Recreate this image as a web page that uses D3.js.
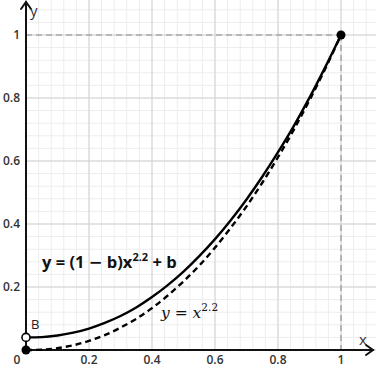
<!DOCTYPE html>
<html>
<head>
<meta charset="utf-8">
<script src="https://cdn.jsdelivr.net/npm/d3@7"></script>
<style>
  html, body { margin: 0; padding: 0; background: #fff; }
  svg { display: block; }
</style>
</head>
<body>
<div id="chart"></div>
<script>
// values
const xSamples = [0, 0.05, 0.1, 0.15, 0.2, 0.25, 0.3, 0.35, 0.4, 0.45, 0.5, 0.55, 0.6, 0.65, 0.7, 0.75, 0.8, 0.85, 0.9, 0.95, 1];
const gammaCurve = [0, 0.001, 0.006, 0.015, 0.029, 0.047, 0.071, 0.099, 0.133, 0.173, 0.218, 0.268, 0.325, 0.388, 0.456, 0.531, 0.612, 0.699, 0.793, 0.893, 1];
const liftedCurve = [0.04, 0.041, 0.046, 0.055, 0.068, 0.086, 0.108, 0.135, 0.168, 0.206, 0.249, 0.298, 0.352, 0.412, 0.478, 0.55, 0.628, 0.711, 0.801, 0.898, 1];
const bValue = 0.04;
const xTicks = [0.2, 0.4, 0.6, 0.8, 1];
const yTicks = [0.2, 0.4, 0.6, 0.8, 1];

const width = 376, height = 371;
const x0 = 26, y0 = 350;

const svg = d3.select('#chart').append('svg')
    .attr('width', width)
    .attr('height', height);

const xScale = d3.scaleLinear().domain([0, 1]).range([x0, 341]);
const yScale = d3.scaleLinear().domain([0, 1]).range([y0, 35]);

// grid: minor every 0.04, major every 0.2
const minor = d3.range(0, 1.2001, 0.04);
const major = d3.range(0, 1.2001, 0.2);

const grid = svg.append('g').attr('class', 'grid');
grid.selectAll('.vminor')
    .data(minor.filter(v => xScale(v) <= width))
    .enter().append('line')
    .attr('x1', d => xScale(d)).attr('x2', d => xScale(d))
    .attr('y1', 0).attr('y2', y0)
    .attr('stroke', '#ededed').attr('stroke-width', 1);
grid.selectAll('.hminor')
    .data(minor.filter(v => yScale(v) >= 0))
    .enter().append('line')
    .attr('x1', x0).attr('x2', width)
    .attr('y1', d => yScale(d)).attr('y2', d => yScale(d))
    .attr('stroke', '#ededed').attr('stroke-width', 1);
grid.selectAll('.vmajor')
    .data(major.filter(v => xScale(v) <= width))
    .enter().append('line')
    .attr('x1', d => xScale(d)).attr('x2', d => xScale(d))
    .attr('y1', 0).attr('y2', y0)
    .attr('stroke', '#d2d2d2').attr('stroke-width', 1);
grid.selectAll('.hmajor')
    .data(major.filter(v => yScale(v) >= 0))
    .enter().append('line')
    .attr('x1', x0).attr('x2', width)
    .attr('y1', d => yScale(d)).attr('y2', d => yScale(d))
    .attr('stroke', '#d2d2d2').attr('stroke-width', 1);

// dashed guides at 1
svg.append('line')
    .attr('x1', xScale(0)).attr('x2', xScale(1))
    .attr('y1', yScale(1)).attr('y2', yScale(1))
    .attr('stroke', '#a8a8a8').attr('stroke-width', 1.6)
    .attr('stroke-dasharray', '6,4');
svg.append('line')
    .attr('x1', xScale(1)).attr('x2', xScale(1))
    .attr('y1', yScale(1)).attr('y2', yScale(0))
    .attr('stroke', '#a8a8a8').attr('stroke-width', 1.6)
    .attr('stroke-dasharray', '6,4');

// axes with open arrow heads
const axis = svg.append('g')
    .attr('stroke', '#111').attr('stroke-width', 2)
    .attr('fill', 'none').attr('stroke-linecap', 'round');
axis.append('line').attr('x1', x0).attr('x2', x0).attr('y1', y0).attr('y2', 2);
axis.append('path').attr('d', `M${x0 - 5},9 L${x0},2 L${x0 + 5},9`);
axis.append('line').attr('x1', x0).attr('x2', 373).attr('y1', y0).attr('y2', y0);
axis.append('path').attr('d', `M366,${y0 - 5} L373,${y0} L366,${y0 + 5}`);

// tick labels
const labelFont = "'Open Sans', sans-serif";
svg.selectAll('.ylab')
    .data(yTicks)
    .enter().append('text')
    .attr('x', 20)
    .attr('y', d => yScale(d) + 4)
    .attr('text-anchor', 'end')
    .attr('font-family', labelFont).attr('font-weight', 600)
    .attr('font-size', 12).attr('fill', '#333')
    .text(d => d3.format('~g')(d));
svg.selectAll('.xlab')
    .data(xTicks)
    .enter().append('text')
    .attr('x', d => xScale(d))
    .attr('y', 364)
    .attr('text-anchor', 'middle')
    .attr('font-family', labelFont).attr('font-weight', 600)
    .attr('font-size', 12).attr('fill', '#333')
    .text(d => d3.format('~g')(d));
svg.append('text')
    .attr('x', 17).attr('y', 364)
    .attr('text-anchor', 'middle')
    .attr('font-family', labelFont).attr('font-weight', 600)
    .attr('font-size', 12).attr('fill', '#333')
    .text('0');

// axis names
svg.append('text')
    .attr('x', 30).attr('y', 16)
    .attr('font-family', labelFont).attr('font-size', 15).attr('fill', '#333')
    .text('y');
svg.append('text')
    .attr('x', 359).attr('y', 345)
    .attr('font-family', labelFont).attr('font-size', 15).attr('fill', '#333')
    .text('x');

// curves
const line = d3.line()
    .x(d => xScale(d[0]))
    .y(d => yScale(d[1]))
    .curve(d3.curveMonotoneX);

svg.append('path')
    .datum(xSamples.map((v, i) => [v, gammaCurve[i]]))
    .attr('d', line)
    .attr('fill', 'none').attr('stroke', '#000')
    .attr('stroke-width', 2.4).attr('stroke-dasharray', '6,4');
svg.append('path')
    .datum(xSamples.map((v, i) => [v, liftedCurve[i]]))
    .attr('d', line)
    .attr('fill', 'none').attr('stroke', '#000')
    .attr('stroke-width', 2.4);

// points
svg.selectAll('.dot')
    .data([[0, 0], [1, 1]])
    .enter().append('circle')
    .attr('cx', d => xScale(d[0])).attr('cy', d => yScale(d[1]))
    .attr('r', 4.5).attr('fill', '#000');
svg.append('circle')
    .attr('cx', xScale(0)).attr('cy', yScale(bValue))
    .attr('r', 4).attr('fill', '#fff')
    .attr('stroke', '#000').attr('stroke-width', 1.6);
svg.append('text')
    .attr('x', 31).attr('y', 329)
    .attr('font-family', labelFont).attr('font-size', 13).attr('fill', '#222')
    .text('B');

// formulas
const f1 = svg.append('text')
    .attr('x', 42).attr('y', 268)
    .attr('font-family', labelFont).attr('font-weight', 700)
    .attr('font-size', 16.5).attr('fill', '#111');
f1.append('tspan').text('y = (1 ');
f1.append('tspan').attr('font-family', "'DejaVu Sans', sans-serif").text('−');
f1.append('tspan').text(' b)x');
f1.append('tspan').attr('font-size', 11).attr('dy', -7).text('2.2');
f1.append('tspan').attr('dy', 7).text(' + b');

const f2 = svg.append('text')
    .attr('x', 161).attr('y', 318)
    .attr('font-family', "'DejaVu Serif', serif")
    .attr('font-size', 15.5).attr('fill', '#111');
f2.append('tspan').attr('font-style', 'italic').text('y');
f2.append('tspan').text(' = ');
f2.append('tspan').attr('font-style', 'italic').text('x');
f2.append('tspan').attr('font-size', 10.5).attr('dy', -7).text('2.2');
</script>
</body>
</html>
